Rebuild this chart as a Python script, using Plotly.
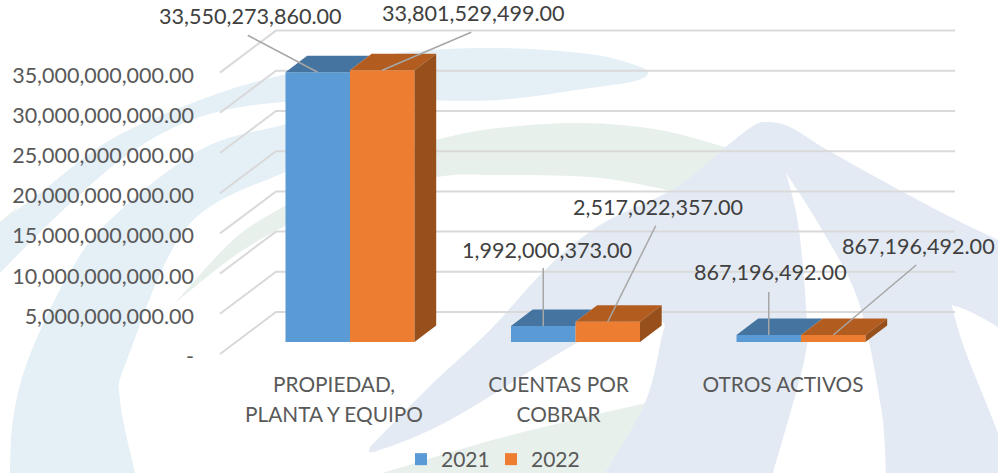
import plotly.graph_objects as go

# ---------- data ----------
categories = ["PROPIEDAD,<br>PLANTA Y EQUIPO", "CUENTAS POR<br>COBRAR", "OTROS ACTIVOS"]
values_2021 = [33550273860, 1992000373, 867196492]
values_2022 = [33801529499, 2517022357, 867196492]
axis_ticks = [0, 5e9, 10e9, 15e9, 20e9, 25e9, 30e9, 35e9]
axis_tick_labels = ["-", "5,000,000,000.00", "10,000,000,000.00", "15,000,000,000.00",
                    "20,000,000,000.00", "25,000,000,000.00", "30,000,000,000.00", "35,000,000,000.00"]

# ---------- layout constants (pixels) ----------
W, H = 998, 473
K = 40.2 / 5e9            # px per value unit
BAR_X0, BAR_STEP, BAR_Y0 = 350.0, 225.5, 342.0
WALL_X0, WALL_STEP, WALL_Y0 = 334.0, 224.5, 356.5
BAR_W = 64.5 / BAR_STEP
DEPTH_X, DEPTH_Y = 21.7 / BAR_STEP, 16.6 / K
GRID_FRONT, GRID_BACK, GRID_END = 220, 276, 955
GRID_LIFT = 2.5 / K       # gridlines sit slightly above the tick-label baseline
GRID_DEPTH = 42 / K
LEADERS_2021 = [(-70, 37), (0, 58), (0, 43)]
LEADERS_2022 = [(89, 38), (48, 96), (83, 70)]
LABELS_2021 = [(-67, 56), (3.5, 76), (2, 63)]
LABELS_2022 = [(91, 57), (50, 115), (85, 89)]
BLUE, BLUE_TOP = "#5B9BD5", "#44749F"
ORANGE, ORANGE_TOP, ORANGE_SIDE = "#ED7D31", "#B35C20", "#97501B"
WM_BLUE, WM_GRAY, WM_GREEN = "#E5EFF6", "#E4EAF3", "#E7F0EB"
FONT = "Lato"


def smooth(pts):
    """Catmull-Rom through the points, as cubic Bezier path commands."""
    out = []
    for i in range(len(pts) - 1):
        p0 = pts[max(i - 1, 0)]
        p1, p2 = pts[i], pts[i + 1]
        p3 = pts[min(i + 2, len(pts) - 1)]
        c1 = (p1[0] + (p2[0] - p0[0]) / 6, p1[1] + (p2[1] - p0[1]) / 6)
        c2 = (p2[0] - (p3[0] - p1[0]) / 6, p2[1] - (p3[1] - p1[1]) / 6)
        out.append("C" + " ".join(f"{x / W:.5f},{1 - y / H:.5f}" for x, y in (c1, c2, p2)))
    return " ".join(out)


def blob(*segments):
    first = segments[0][0]
    path = f"M{first[0] / W:.5f},{1 - first[1] / H:.5f} "
    for seg in segments:
        path += f"L{seg[0][0] / W:.5f},{1 - seg[0][1] / H:.5f} " + smooth(seg) + " "
    return path + "Z"


green_arc = blob(
    [(175, 303), (233, 240), (283, 207), (360, 165), (436, 140), (498, 128), (581, 123), (660, 130), (735, 150)],
    [(735, 150), (690, 195)],
    [(690, 195), (600, 178), (498, 175), (436, 177), (340, 200), (283, 227), (233, 257), (175, 303)],
)
green_bottom = blob([(383, 473), (500, 438), (650, 402)], [(650, 402), (605, 473)])
green_sliver = blob([(0, 228), (20, 205)], [(20, 205), (0, 222)])
band_upper = blob(
    [(0, 223), (40, 193), (110, 140), (200, 100), (283, 75), (400, 53), (498, 48), (590, 54), (635, 65), (648, 73),
     (635, 81), (590, 88), (498, 100), (400, 100), (283, 102), (200, 117), (130, 153), (60, 213), (0, 273)],
)
band_lower = blob(
    [(10, 473), (13, 420), (28, 360), (67, 277), (110, 220), (200, 150), (283, 125), (340, 112)],
    [(340, 112), (340, 155)],
    [(340, 155), (283, 173), (187, 227), (127, 360), (120, 400), (135, 473)],
)
gray_main = blob(
    [(370, 447), (433, 383), (490, 330), (545, 270), (600, 225), (675, 188), (728, 145), (750, 128), (765, 122),
     (790, 127), (831, 152), (931, 207), (998, 240)],
    [(998, 240), (998, 327)],
    [(998, 327), (975, 314), (955, 306), (953, 310), (965, 350), (985, 400), (998, 433)],
    [(998, 433), (998, 473)],
    [(998, 473), (886, 473)],
    [(886, 473), (881, 407), (858, 300), (818, 223), (786, 173)],
    [(786, 173), (798, 223), (806, 307), (805, 357), (773, 473)],
    [(773, 473), (605, 473)],
    [(605, 473), (645, 403), (661, 340), (663, 322), (640, 318)],
    [(640, 318), (577, 343), (450, 420), (377, 451), (370, 447)],
)
shapes = []
for path, colour in [(green_sliver, WM_GREEN), (green_arc, WM_GREEN), (green_bottom, WM_GREEN),
                     (band_upper, WM_BLUE), (band_lower, WM_BLUE), (gray_main, WM_GRAY)]:
    shapes.append(dict(type="path", path=path, xref="paper", yref="paper", layer="below",
                       fillcolor=colour, line_width=0))

fig = go.Figure()

# ---------- wall: gridlines on the tick axes ----------
for t in axis_ticks:
    fig.add_trace(go.Scatter(
        x=[(GRID_FRONT - WALL_X0) / WALL_STEP, (GRID_BACK - WALL_X0) / WALL_STEP, (GRID_END - WALL_X0) / WALL_STEP],
        y=[t + GRID_LIFT, t + GRID_LIFT + GRID_DEPTH, t + GRID_LIFT + GRID_DEPTH], mode="lines",
        line=dict(color="#D9D9D9", width=2), showlegend=False, hoverinfo="skip", xaxis="x", yaxis="y"))

# ---------- bars ----------
xs = list(range(len(categories)))
fig.add_trace(go.Bar(x=xs, y=values_2021, width=BAR_W, offset=-BAR_W, name="2021", marker=dict(color=BLUE, line_width=0),
                     xaxis="x2", yaxis="y2"))
fig.add_trace(go.Bar(x=xs, y=values_2022, width=BAR_W, offset=0, name="2022", marker=dict(color=ORANGE, line_width=0),
                     xaxis="x2", yaxis="y2"))


def face(x, y, colour):
    fig.add_trace(go.Scatter(x=x, y=y, mode="lines", fill="toself", fillcolor=colour, line=dict(width=0, color=colour),
                             showlegend=False, hoverinfo="skip", xaxis="x2", yaxis="y2"))


for i in xs:
    a, b = values_2021[i], values_2022[i]
    # top of the 2021 block runs up to the diagonal edge of the 2022 block's top
    reach = i + DEPTH_X * (a + DEPTH_Y - b) / DEPTH_Y
    face([i - BAR_W, i - BAR_W + DEPTH_X, reach, i, i, i - BAR_W], [a, a + DEPTH_Y, a + DEPTH_Y, b, a, a], BLUE_TOP)
    face([i, i + DEPTH_X, i + BAR_W + DEPTH_X, i + BAR_W, i], [b, b + DEPTH_Y, b + DEPTH_Y, b, b], ORANGE_TOP)
    face([i + BAR_W, i + BAR_W + DEPTH_X, i + BAR_W + DEPTH_X, i + BAR_W, i + BAR_W],
         [0, DEPTH_Y, b + DEPTH_Y, b, 0], ORANGE_SIDE)

# ---------- data labels with leader lines ----------
annotations = []
for series, centre, leaders, labels in [(values_2021, -BAR_W / 2, LEADERS_2021, LABELS_2021),
                                        (values_2022, BAR_W / 2, LEADERS_2022, LABELS_2022)]:
    for i, v in enumerate(series):
        x0 = i + centre
        dx, dy = leaders[i]
        fig.add_trace(go.Scatter(x=[x0, x0 + dx / BAR_STEP], y=[v, v + dy / K], mode="lines",
                                 line=dict(color="#A6A6A6", width=1.5), showlegend=False, hoverinfo="skip",
                                 xaxis="x2", yaxis="y2"))
        lx, ly = labels[i]
        annotations.append(dict(x=x0, y=v, xref="x2", yref="y2", xshift=lx, yshift=ly, showarrow=False,
                                text=f"{v:,.2f}", font=dict(family=FONT, size=21.6, color="#404040")))

spanned = ['<span style="font-size:20.8px">' + c.replace("<br>", '</span><br><span style="font-size:20.8px">') + "</span>"
           for c in categories]

fig.update_layout(
    width=W, height=H, margin=dict(l=0, r=0, t=0, b=0, autoexpand=False),
    paper_bgcolor="white", plot_bgcolor="rgba(0,0,0,0)", barmode="overlay", shapes=shapes, annotations=annotations,
    font=dict(family=FONT, color="#595959"),
    xaxis=dict(domain=[0, 1], range=[-WALL_X0 / WALL_STEP, (W - WALL_X0) / WALL_STEP], anchor="free",
               position=1 - 368 / H, tickmode="array", tickvals=xs, ticktext=spanned, showgrid=False, zeroline=False,
               showline=False, ticks="", tickfont=dict(family=FONT, size=23, color="#595959"), tickangle=0),
    yaxis=dict(domain=[0, 1], range=[-(H - WALL_Y0) / K, WALL_Y0 / K], anchor="free", position=194 / W,
               tickmode="array", tickvals=axis_ticks, ticktext=axis_tick_labels, showgrid=False, zeroline=False,
               showline=False, ticks="", tickfont=dict(family=FONT, size=21.5, color="#595959")),
    xaxis2=dict(overlaying="x", range=[-BAR_X0 / BAR_STEP, (W - BAR_X0) / BAR_STEP], visible=False),
    yaxis2=dict(overlaying="y", range=[-(H - BAR_Y0) / K, BAR_Y0 / K], visible=False),
    legend=dict(orientation="h", x=401 / W, y=1 - 439 / H, xanchor="left", yanchor="top", entrywidth=45,
                entrywidthmode="pixels", font=dict(family=FONT, size=21, color="#595959"), bgcolor="rgba(0,0,0,0)"),
)

fig.write_html("out.html", config=dict(displayModeBar=False),
               post_script="document.body.style.margin='0';document.body.style.overflow='hidden';")
